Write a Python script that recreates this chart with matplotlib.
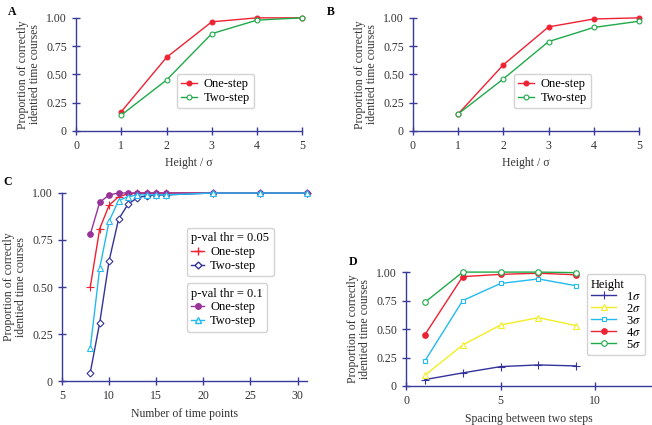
import matplotlib
matplotlib.use("Agg")
import matplotlib.pyplot as plt
from matplotlib.lines import Line2D

plt.rcParams['font.family'] = ['Liberation Serif', 'DejaVu Serif']
plt.rcParams['font.size'] = 8.5
plt.rcParams['mathtext.fontset'] = 'stix'

AXC = '#3a3a9a'
RED = '#ee2233'
GREEN = '#1faa4a'
PURPLE = '#993399'
CYAN = '#22bbee'
NAVY = '#33339a'
YELLOW = '#f2ee22'

# panel A / B
heights = [1, 2, 3, 4, 5]
a_one = [0.17, 0.65, 0.965, 1.0, 1.0]
a_two = [0.14, 0.45, 0.86, 0.98, 1.0]
b_one = [0.15, 0.585, 0.92, 0.99, 1.0]
b_two = [0.15, 0.46, 0.79, 0.915, 0.97]

# panel C
npoints = [8, 9, 10, 11, 12, 13, 14, 15, 16, 21, 26, 31]
c_one_05 = [0.50, 0.81, 0.935, 0.98, 0.995, 1.0, 1.0, 1.0, 1.0, 1.0, 1.0, 1.0]
c_two_05 = [0.045, 0.31, 0.64, 0.86, 0.94, 0.975, 0.985, 0.99, 0.99, 1.0, 1.0, 1.0]
c_one_1 = [0.78, 0.95, 0.99, 1.0, 1.0, 1.0, 1.0, 1.0, 1.0, 1.0, 1.0, 1.0]
c_two_1 = [0.175, 0.60, 0.85, 0.96, 0.98, 0.99, 0.99, 0.99, 0.99, 1.0, 1.0, 1.0]

# panel D
spacing = [1, 3, 5, 7, 9]
d_1s = [0.056, 0.115, 0.17, 0.185, 0.176]
d_2s = [0.094, 0.36, 0.535, 0.60, 0.53]
d_3s = [0.22, 0.75, 0.90, 0.94, 0.88]
d_4s = [0.45, 0.96, 0.98, 0.99, 0.976]
d_5s = [0.735, 1.0, 1.0, 1.0, 0.995]

yticks = [0, 0.25, 0.5, 0.75, 1.0]
ylabels = ['0', '0.25', '0.50', '0.75', '1.00']
YLAB = 'Proportion of correctly\nidentied time courses'
TXT = '#333333'


def style_axes(ax, xlim, xticks):
    for s in ['top', 'right']:
        ax.spines[s].set_visible(False)
    for s in ['left', 'bottom']:
        ax.spines[s].set_color(AXC)
        ax.spines[s].set_linewidth(1.0)
    ax.set_xlim(*xlim)
    ax.set_ylim(0, 1)
    ax.set_xticks(xticks)
    ax.set_yticks(yticks)
    ax.set_yticklabels(ylabels)
    ax.tick_params(direction='inout', length=6, width=1.0, color=AXC,
                   labelcolor=TXT, labelsize=8.5)
    ax.set_ylabel(YLAB, fontsize=8.5, color=TXT, linespacing=1.0)
    ax.patch.set_alpha(0)


def line(ax, x, y, color, marker, filled=True, ms=3.5, label=None):
    ax.plot(x, y, color=color, lw=1.0, marker=marker, ms=ms,
            mfc=color if filled else 'white', mec=color, mew=0.8,
            label=label, clip_on=False, zorder=3)


def finish_legend(lg):
    lg.get_frame().set_edgecolor('#c8c8c8')
    if lg.get_title().get_text():
        lg.get_title().set_fontsize(9)
        lg._legend_box.align = 'left'


fig = plt.figure(figsize=(6.52, 4.25), dpi=100)

axA = fig.add_axes([0.1166, 0.692, 0.347, 0.266])
axB = fig.add_axes([0.6334, 0.692, 0.3466, 0.266])
axC = fig.add_axes([0.0951, 0.1035, 0.3758, 0.4424])
axD = fig.add_axes([0.6227, 0.0918, 0.377, 0.268])

leg_kw = dict(frameon=True, fontsize=9, borderpad=0.35,
              fancybox=True, borderaxespad=0)

for ax, one, two in [(axA, a_one, a_two), (axB, b_one, b_two)]:
    style_axes(ax, (0, 5), [0, 1, 2, 3, 4, 5])
    line(ax, heights, one, RED, 'o', True, label='One-step')
    line(ax, heights, two, GREEN, 'o', False, label='Two-step')
    ax.set_xlabel('Height / σ', fontsize=8.5, color=TXT)
    lg = ax.legend(loc='lower left', bbox_to_anchor=(0.445, 0.2),
                   handlelength=1.3, handletextpad=0.5, labelspacing=0.15,
                   **leg_kw)
    finish_legend(lg)

style_axes(axC, (5, 31), [5, 10, 15, 20, 25, 30])
line(axC, npoints, c_one_05, RED, '+', ms=5.5)
line(axC, npoints, c_two_05, NAVY, 'D', False, ms=3.5)
line(axC, npoints, c_one_1, PURPLE, 'o', True, ms=4)
line(axC, npoints, c_two_1, CYAN, '^', False, ms=4)
axC.set_xlabel('Number of time points', fontsize=8.5, color=TXT)

h05 = [Line2D([], [], color=RED, marker='+', ms=5.5, lw=1.0),
       Line2D([], [], color=NAVY, marker='D', ms=3.5, mfc='white', lw=1.0)]
h1 = [Line2D([], [], color=PURPLE, marker='o', ms=4, lw=1.0),
      Line2D([], [], color=CYAN, marker='^', ms=4, mfc='white', lw=1.0)]
lg1 = axC.legend(h05, ['One-step', 'Two-step'], title='p-val thr = 0.05',
                 loc='upper left', bbox_to_anchor=(0.51, 0.815),
                 handlelength=1.0, handletextpad=0.5, labelspacing=0.15,
                 **leg_kw)
finish_legend(lg1)
axC.add_artist(lg1)
lg2 = axC.legend(h1, ['One-step', 'Two-step'], title='p-val thr = 0.1',
                 loc='upper left', bbox_to_anchor=(0.51, 0.52),
                 handlelength=1.0, handletextpad=0.5, labelspacing=0.15,
                 **leg_kw)
finish_legend(lg2)

style_axes(axD, (0, 13), [0, 5, 10])
line(axD, spacing, d_1s, NAVY, '+', ms=5.5, label='1$\\sigma$')
line(axD, spacing, d_2s, YELLOW, '^', False, ms=4, label='2$\\sigma$')
line(axD, spacing, d_3s, CYAN, 's', False, ms=3.5, label='3$\\sigma$')
line(axD, spacing, d_4s, RED, 'o', True, ms=4, label='4$\\sigma$')
line(axD, spacing, d_5s, GREEN, 'o', False, ms=4, label='5$\\sigma$')
axD.set_xlabel('Spacing between two steps', fontsize=8.5, color=TXT)
lgD = axD.legend(title='Height', loc='upper left', bbox_to_anchor=(0.735, 0.98),
                 handlelength=2.0, handletextpad=0.8, labelspacing=0.0,
                 **leg_kw)
finish_legend(lgD)

for txt, x, y in [('A', 0.012, 0.985), ('B', 0.502, 0.985),
                  ('C', 0.005, 0.585), ('D', 0.535, 0.398)]:
    fig.text(x, y, txt, fontsize=8.5, fontweight='bold', va='top', ha='left')

fig.savefig('out.png', dpi=100)
